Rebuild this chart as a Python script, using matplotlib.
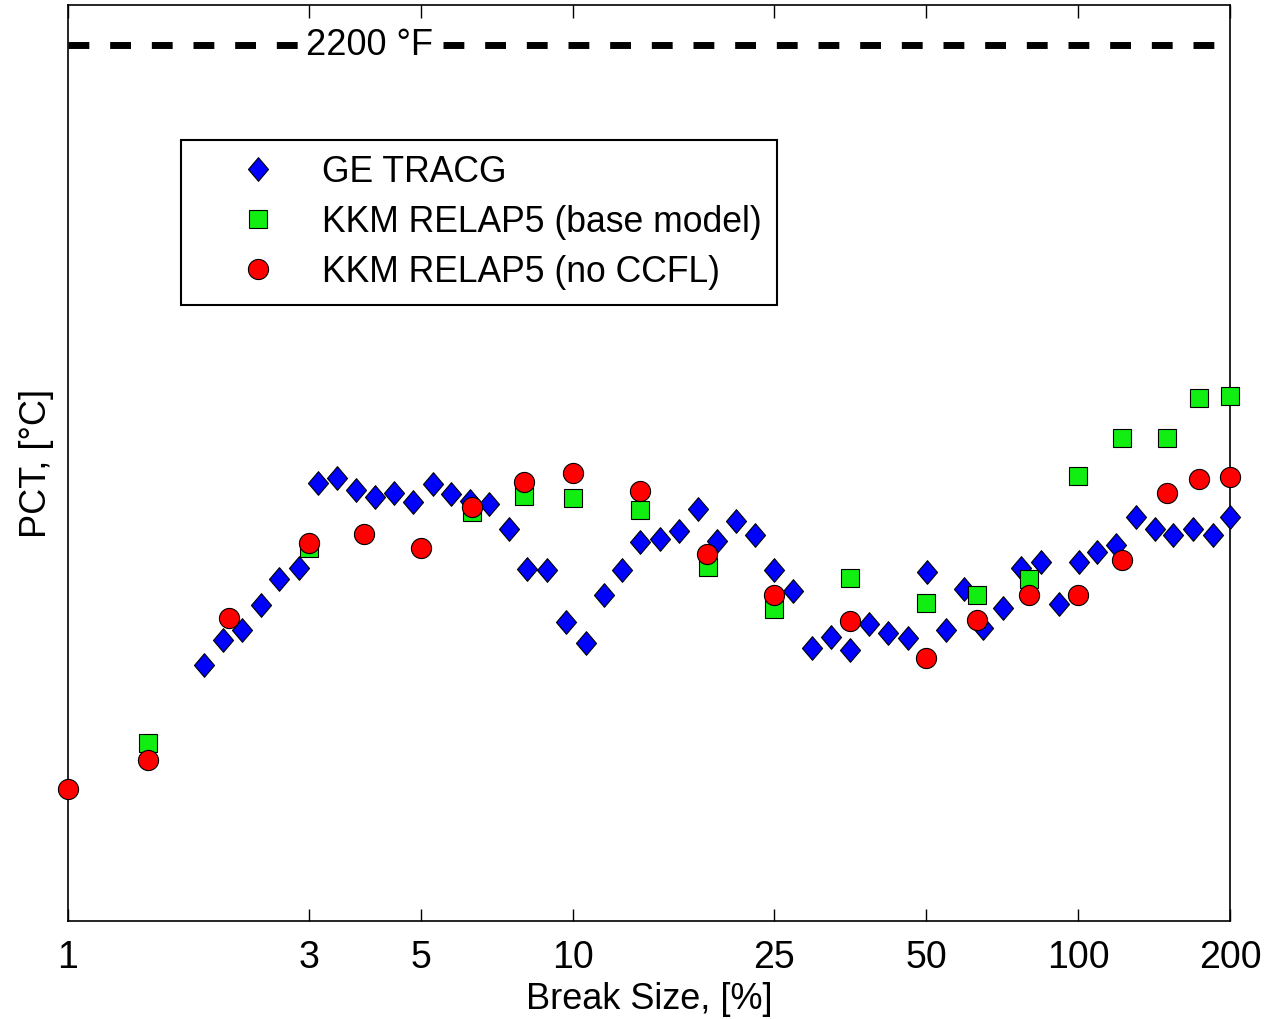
import matplotlib
matplotlib.use("Agg")
import matplotlib.pyplot as plt
from matplotlib.path import Path
from matplotlib.ticker import FixedLocator, FixedFormatter, NullLocator

plt.rcParams['font.family'] = ['Liberation Sans', 'DejaVu Sans']

# GE TRACG break spectrum (break size %, PCT degC)
tracg_size = [1.86, 2.03, 2.21, 2.41, 2.62, 2.87, 3.12, 3.41, 3.71, 4.05,
              4.42, 4.83, 5.27, 5.73, 6.25, 6.83, 7.47, 8.12, 8.87, 9.69,
              10.6, 11.5, 12.5, 13.6, 14.9, 16.2, 17.7, 19.3, 21.0, 22.9,
              25.0, 27.3, 29.8, 32.5, 35.4, 38.6, 42.1, 46.0, 50.2, 54.7,
              59.6, 64.9, 71.0, 77.1, 84.5, 91.9, 100.5, 109, 119, 130,
              142, 154, 169, 185, 200]
tracg_pct = [493, 522, 534, 562, 592, 605, 702, 708, 694, 686,
             691, 680, 701, 690, 681, 678, 649, 604, 602, 543,
             519, 574, 602, 634, 638, 647, 672, 635, 659, 642,
             602, 578, 513, 525, 511, 540, 530, 524, 600, 534,
             581, 536, 559, 605, 611, 563, 612, 623, 631, 663,
             649, 643, 649, 643, 663]

# KKM RELAP5 base model
base_size = [1.44, 3.0, 6.3, 8.0, 10.0, 13.6, 18.5, 25.0, 35.4, 50.0,
             63.0, 80.0, 100.0, 122.0, 150.0, 174.0, 200.0]
base_pct = [404, 628, 669, 687, 685, 671, 606, 558, 593, 564,
            574, 592, 710, 754, 754, 800, 802]

# KKM RELAP5 without CCFL
noccfl_size = [1.0, 1.44, 2.08, 3.0, 3.86, 5.0, 6.3, 8.0, 10.0, 13.6,
               18.4, 25.0, 35.4, 50.0, 63.0, 80.0, 100.0, 122.0, 150.0, 174.0,
               200.0]
noccfl_pct = [351, 385, 547, 633, 644, 627, 675, 703, 714, 693,
              621, 574, 544, 502, 545, 574, 574, 614, 691, 707,
              709]

limit_pct = 1204  # 2200 F
xticks = [1, 3, 5, 10, 25, 50, 100, 200]
xtick_labels = ['1', '3', '5', '10', '25', '50', '100', '200']

diamond = Path([(0, 1), (0.85, 0), (0, -1), (-0.85, 0), (0, 1)],
               [Path.MOVETO, Path.LINETO, Path.LINETO, Path.LINETO, Path.CLOSEPOLY])

fig = plt.figure(figsize=(12.64, 10.19), dpi=100)
ax = fig.add_axes([0.0538, 0.0962, 0.9193, 0.8989])

ax.axhline(limit_pct, color='black', lw=5, dashes=(3, 3), zorder=1)
ax.text(3.96, limit_pct, '2200 °F', fontsize=26, ha='center', va='center',
        bbox=dict(facecolor='white', edgecolor='none', pad=3), zorder=2)

ax.plot(tracg_size, tracg_pct, ls='none', marker=diamond, ms=17,
        mfc='#0000ff', mec='black', mew=0.8, label='GE TRACG',
        zorder=3, clip_on=False)
ax.plot(base_size, base_pct, ls='none', marker='s', ms=13,
        mfc='#11ee11', mec='black', mew=0.8, label='KKM RELAP5 (base model)',
        zorder=4, clip_on=False)
ax.plot(noccfl_size, noccfl_pct, ls='none', marker='o', ms=14.5,
        mfc='#ff0000', mec='black', mew=0.8, label='KKM RELAP5 (no CCFL)',
        zorder=5, clip_on=False)

ax.set_xscale('log')
ax.set_xlim(1, 200)
ax.set_ylim(200, 1250)
ax.xaxis.set_major_locator(FixedLocator(xticks))
ax.xaxis.set_major_formatter(FixedFormatter(xtick_labels))
ax.xaxis.set_minor_locator(NullLocator())
ax.yaxis.set_major_locator(NullLocator())
ax.tick_params(axis='x', direction='in', length=9, width=1, top=True,
               labelsize=27, pad=14)
for s in ax.spines.values():
    s.set_linewidth(1.2)

ax.set_xlabel('Break Size, [%]', fontsize=26, labelpad=4)
ax.set_ylabel('PCT, [°C]', fontsize=26, labelpad=10)

leg = ax.legend(loc='upper left', bbox_to_anchor=(0.0972, 0.8526), fontsize=25.6,
                frameon=True, fancybox=False, edgecolor='black', framealpha=1,
                borderaxespad=0, handletextpad=0.05, labelspacing=0.42,
                borderpad=0.42, handlelength=3.5)
leg.get_frame().set_linewidth(1.5)

fig.savefig('out.png', dpi=100)
